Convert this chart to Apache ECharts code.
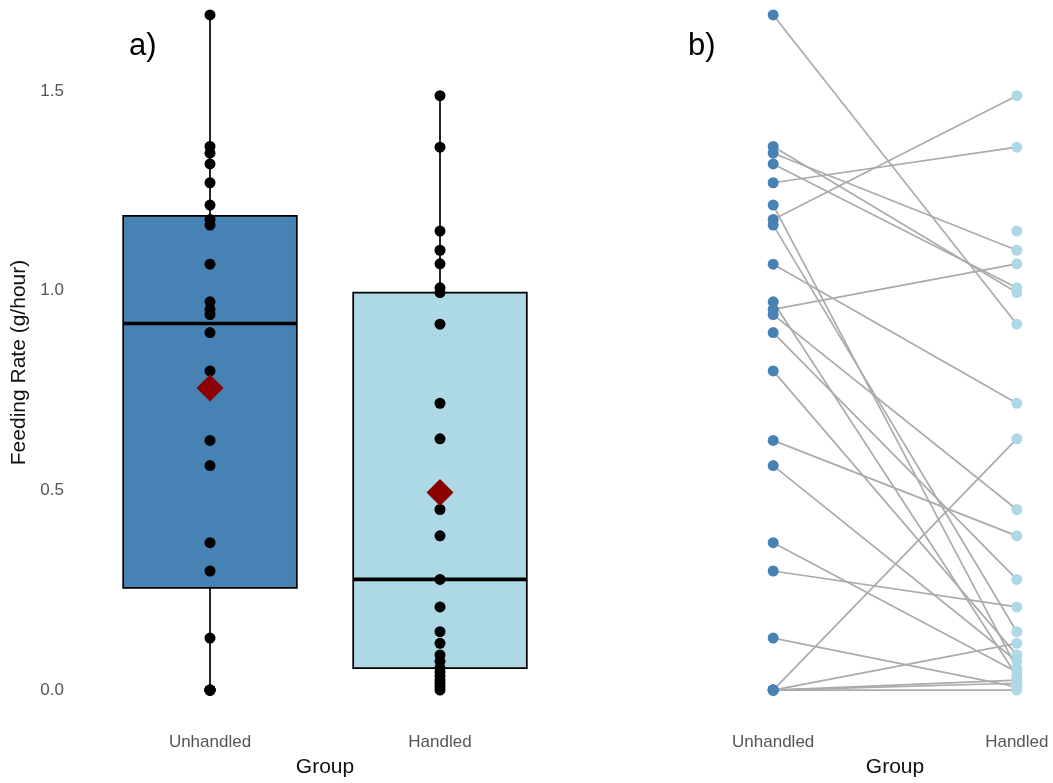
<!DOCTYPE html>
<html>
<head>
<meta charset="utf-8">
<title>Feeding Rate by Group</title>
<script src="https://cdn.jsdelivr.net/npm/echarts@6/dist/echarts.min.js"></script>
<style>
  html, body { margin: 0; padding: 0; background: #ffffff; }
  #chart { width: 1053px; height: 783px; }
</style>
</head>
<body>
<div id="chart"></div>
<script>
// Group names on the x axis
const groups = ['Unhandled', 'Handled'];

// Feeding rate (g/hour) per animal, same order in both arrays; null = not recorded
const unhandled = [1.690, 1.361, 1.344, 1.317, 1.270, 1.214, 1.178, 1.164, 1.066, 0.972,
                   0.953, 0.940, 0.895, 0.799, 0.625, 0.562, 0.369, 0.298, 0.130, 0.000,
                   0.000, 0.000, 0.000, 0.000, null];
const handled   = [0.916, 0.995, 1.101, 1.007, 1.359, 0.055, 1.488, 0.146, 0.718, 0.035,
                   1.067, 0.452, 0.277, 0.088, 0.386, 0.072, 0.045, 0.208, 0.008, 0.629,
                   0.117, 0.025, 0.017, 0.000, 1.149];

// Tick labels of the y axis
const yTicks = [0, 0.5, 1.0, 1.5];

const BOX_FILL = ['#4682B4', '#ADD8E6'];
const MEAN_COLOR = '#8B0000';
const PAIR_LINE = '#ABABAB';
const FONT = '"Liberation Sans", Arial, Helvetica, sans-serif';

// Quantile (linear interpolation between order statistics)
function quantile(sorted, p) {
  const h = (sorted.length - 1) * p;
  const lo = Math.floor(h), hi = Math.ceil(h);
  return sorted[lo] + (h - lo) * (sorted[hi] - sorted[lo]);
}

// Box statistics: whiskers reach the most extreme values within 1.5 * IQR
function boxStats(values) {
  const s = values.filter(v => v != null).slice().sort((a, b) => a - b);
  const q1 = quantile(s, 0.25), md = quantile(s, 0.5), q3 = quantile(s, 0.75);
  const iqr = q3 - q1;
  const lo = s.find(v => v >= q1 - 1.5 * iqr);
  const hi = s.slice().reverse().find(v => v <= q3 + 1.5 * iqr);
  const mean = s.reduce((a, b) => a + b, 0) / s.length;
  return { lo, q1, md, q3, hi, mean };
}

const stats = [boxStats(unhandled), boxStats(handled)];
const boxData = stats.map((st, i) => [i + 1, st.lo, st.q1, st.md, st.q3, st.hi]);
const meanData = stats.map((st, i) => [i + 1, st.mean]);

const uPoints = unhandled.filter(v => v != null).map(v => [1, v]);
const hPoints = handled.filter(v => v != null).map(v => [2, v]);
const pairData = unhandled.map((u, i) => [u, handled[i]]).filter(p => p[0] != null && p[1] != null);

const BOX_WIDTH = 0.755;

function renderBox(params, api) {
  const x = api.value(0);
  const pHi = api.coord([x, api.value(5)]);
  const pQ3 = api.coord([x, api.value(4)]);
  const pMd = api.coord([x, api.value(3)]);
  const pQ1 = api.coord([x, api.value(2)]);
  const pLo = api.coord([x, api.value(1)]);
  const half = api.size([BOX_WIDTH, 0])[0] / 2;
  const cx = pMd[0];
  const edge = { stroke: '#000', lineWidth: 1.7 };
  return {
    type: 'group',
    children: [
      { type: 'line', shape: { x1: cx, y1: pHi[1], x2: cx, y2: pQ3[1] }, style: edge },
      { type: 'line', shape: { x1: cx, y1: pQ1[1], x2: cx, y2: pLo[1] }, style: edge },
      { type: 'rect', shape: { x: cx - half, y: pQ3[1], width: half * 2, height: pQ1[1] - pQ3[1] },
        style: { fill: BOX_FILL[params.dataIndex], stroke: '#000', lineWidth: 1.7 } },
      { type: 'line', shape: { x1: cx - half, y1: pMd[1], x2: cx + half, y2: pMd[1] },
        style: { stroke: '#000', lineWidth: 3.6 } }
    ]
  };
}

function renderPair(params, api) {
  const a = api.coord([1, api.value(0)]);
  const b = api.coord([2, api.value(1)]);
  return {
    type: 'line',
    shape: { x1: a[0], y1: a[1], x2: b[0], y2: b[1] },
    style: { stroke: PAIR_LINE, lineWidth: 1.7 }
  };
}

const Y_MIN = -0.085, Y_MAX = 1.725;

function xAxisFor(gridIndex, min, max) {
  return {
    type: 'value', gridIndex, min, max,
    axisLine: { show: false }, axisTick: { show: false }, splitLine: { show: false },
    axisLabel: {
      customValues: [1, 2],
      formatter: v => groups[Math.round(v) - 1],
      color: '#555555', fontSize: 17, fontFamily: FONT, margin: 10
    },
    name: 'Group', nameLocation: 'middle', nameGap: 33,
    nameTextStyle: { color: '#111111', fontSize: 21, fontFamily: FONT }
  };
}

function yAxisFor(gridIndex, withLabels) {
  const ax = {
    type: 'value', gridIndex, min: Y_MIN, max: Y_MAX,
    axisLine: { show: false }, axisTick: { show: false }, splitLine: { show: false },
    axisLabel: withLabels ? {
      customValues: yTicks,
      formatter: v => v.toFixed(1),
      color: '#555555', fontSize: 17, fontFamily: FONT, margin: 8
    } : { show: false }
  };
  if (withLabels) {
    Object.assign(ax, {
      name: 'Feeding Rate (g/hour)', nameLocation: 'middle', nameGap: 42, nameRotate: 90,
      nameTextStyle: { color: '#111111', fontSize: 21, fontFamily: FONT }
    });
  }
  return ax;
}

const solid = color => ({ color, opacity: 1 });

const chart = echarts.init(document.getElementById('chart'), null, { renderer: 'canvas' });

chart.setOption({
  animation: false,
  backgroundColor: '#ffffff',
  title: [
    { text: 'a)', left: 124, top: 26, textStyle: { fontSize: 31, fontWeight: 'normal', color: '#000', fontFamily: FONT } },
    { text: 'b)', left: 683, top: 26, textStyle: { fontSize: 31, fontWeight: 'normal', color: '#000', fontFamily: FONT } }
  ],
  grid: [
    { left: 72, width: 506, top: 1, height: 725 },
    { left: 761, width: 268, top: 1, height: 725 }
  ],
  xAxis: [xAxisFor(0, 0.4, 2.6), xAxisFor(1, 0.95, 2.05)],
  yAxis: [yAxisFor(0, true), yAxisFor(1, false)],
  series: [
    {
      name: 'box', type: 'custom', xAxisIndex: 0, yAxisIndex: 0, z: 1,
      renderItem: renderBox, data: boxData, silent: true
    },
    {
      name: 'Unhandled points', type: 'scatter', xAxisIndex: 0, yAxisIndex: 0, z: 3,
      symbolSize: 11, itemStyle: solid('#000000'), data: uPoints
    },
    {
      name: 'Handled points', type: 'scatter', xAxisIndex: 0, yAxisIndex: 0, z: 3,
      symbolSize: 11, itemStyle: solid('#000000'), data: hPoints
    },
    {
      name: 'mean', type: 'scatter', xAxisIndex: 0, yAxisIndex: 0, z: 4,
      symbol: 'diamond', symbolSize: 27, itemStyle: solid(MEAN_COLOR), data: meanData
    },
    {
      name: 'pairs', type: 'custom', xAxisIndex: 1, yAxisIndex: 1, z: 1,
      renderItem: renderPair, data: pairData, silent: true
    },
    {
      name: 'Unhandled', type: 'scatter', xAxisIndex: 1, yAxisIndex: 1, z: 3,
      symbolSize: 11, itemStyle: solid(BOX_FILL[0]), data: uPoints
    },
    {
      name: 'Handled', type: 'scatter', xAxisIndex: 1, yAxisIndex: 1, z: 3,
      symbolSize: 11, itemStyle: solid(BOX_FILL[1]), data: hPoints
    }
  ]
});
</script>
</body>
</html>
